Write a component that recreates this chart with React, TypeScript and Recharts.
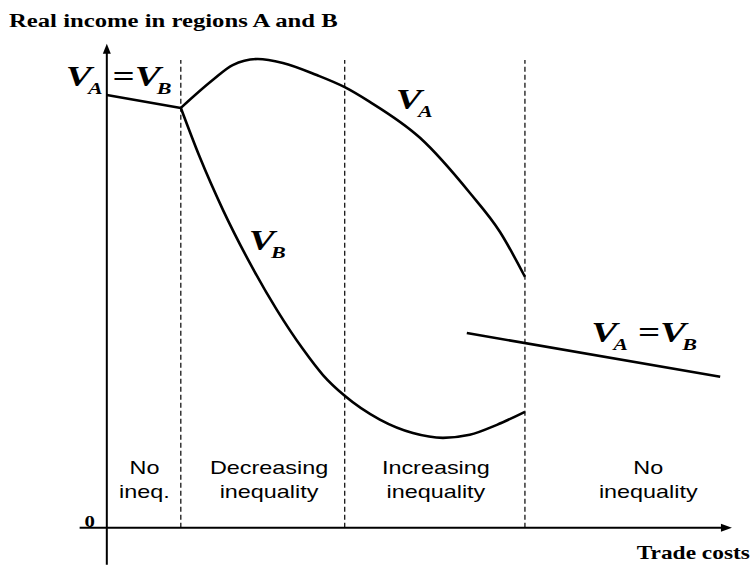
import React from 'react';
import { LineChart, Line, XAxis, YAxis, ReferenceLine, ReferenceDot } from 'recharts';

// trade costs (x) vs real income (y)
const FLAT_LEFT = [
  { x: 0, y: 100 },
  { x: 17.7, y: 97 },
];
const V_A = [
  { x: 17.7, y: 97 },
  { x: 25.4, y: 103.5 },
  { x: 30.1, y: 106.9 },
  { x: 36.1, y: 108.3 },
  { x: 42.1, y: 107.4 },
  { x: 50.2, y: 104.6 },
  { x: 56.9, y: 101.8 },
  { x: 62.9, y: 98.4 },
  { x: 74.9, y: 90.1 },
  { x: 86.8, y: 77.4 },
  { x: 94.0, y: 68.4 },
  { x: 100, y: 58.0 },
];
const V_B = [
  { x: 17.7, y: 97 },
  { x: 22.2, y: 85.7 },
  { x: 27.8, y: 73.4 },
  { x: 34.2, y: 61.2 },
  { x: 40.7, y: 50.3 },
  { x: 46.9, y: 41.3 },
  { x: 51.7, y: 35.3 },
  { x: 56.9, y: 30.5 },
  { x: 65.3, y: 25.0 },
  { x: 73.2, y: 21.9 },
  { x: 80.4, y: 20.8 },
  { x: 86.8, y: 21.5 },
  { x: 93.3, y: 23.8 },
  { x: 100, y: 26.8 },
];
const FLAT_RIGHT = [
  { x: 86.1, y: 45.0 },
  { x: 146.7, y: 34.9 },
];

const BOUNDARIES = [17.7, 56.9, 100];
const REGION_MID = [9.0, 38.8, 78.7, 129.5];
const REGION_TOP = ['No', 'Decreasing', 'Increasing', 'No'];
const REGION_BOTTOM = ['ineq.', 'inequality', 'inequality', 'inequality'];

const W = 756;
const H = 571;
const SX = 1.3; // the original figure is stretched sideways
const SERIF = '"Liberation Serif", "Times New Roman", serif';
const SANS = '"Liberation Sans", Arial, sans-serif';

function Stretch({ x, y, anchor = 'start', size, family = SERIF, weight = 'bold', children }: any) {
  return (
    <text
      transform={`translate(${x},${y}) scale(${SX},1)`}
      textAnchor={anchor}
      fontSize={size}
      fontFamily={family}
      fontWeight={weight}
      fill="#000"
    >
      {children}
    </text>
  );
}

// V with a subscript, optionally "V_a = V_b"
function VLabel({ x, y, a, b }: { x: number; y: number; a: string; b?: string }) {
  const txt = { fontFamily: SERIF, fontWeight: 'bold', fontStyle: 'italic', fill: '#000' } as any;
  return (
    <g transform={`translate(${x},${y}) scale(${SX},1)`}>
      <text x={0} y={0} fontSize={30} {...txt}>V</text>
      <text x={17} y={8} fontSize={17} {...txt}>{a}</text>
      {b && (
        <>
          <text x={36} y={0} fontSize={30} {...txt} fontStyle="normal">=</text>
          <text x={53} y={0} fontSize={30} {...txt}>V</text>
          <text x={70} y={8} fontSize={17} {...txt}>{b}</text>
        </>
      )}
    </g>
  );
}

const upArrow = ({ cx, cy }: any) => (
  <path d={`M${cx},${cy} L${cx - 4},${cy + 10} L${cx + 4},${cy + 10} Z`} fill="#000" />
);
const rightArrow = ({ cx, cy }: any) => (
  <path d={`M${cx},${cy} L${cx - 11},${cy - 4} L${cx - 11},${cy + 4} Z`} fill="#000" />
);

export default function App() {
  return (
    <div style={{ position: 'absolute', left: 0, top: 0, width: W, height: H, background: '#fff' }}>
      <LineChart width={W} height={H} margin={{ top: 43, right: 22, bottom: 2, left: 65 }}>
        <XAxis type="number" dataKey="x" domain={[-10, 150]} hide allowDataOverflow />
        <YAxis type="number" dataKey="y" domain={[-9.5, 112]} hide allowDataOverflow />

        {BOUNDARIES.map((b) => (
          <ReferenceLine
            key={b}
            segment={[{ x: b, y: 0 }, { x: b, y: 108.1 }]}
            stroke="#000"
            strokeWidth={1.2}
            strokeDasharray="5 3"
            ifOverflow="visible"
          />
        ))}

        <ReferenceLine segment={[{ x: 0, y: -8.5 }, { x: 0, y: 110 }]} stroke="#000" strokeWidth={2} ifOverflow="visible" />
        <ReferenceLine segment={[{ x: -6.5, y: 0 }, { x: 147, y: 0 }]} stroke="#000" strokeWidth={2} ifOverflow="visible" />
        <ReferenceDot x={0} y={111.8} r={0} shape={upArrow} ifOverflow="visible" />
        <ReferenceDot x={149.5} y={0} r={0} shape={rightArrow} ifOverflow="visible" />

        <Line data={FLAT_LEFT} dataKey="y" type="linear" stroke="#000" strokeWidth={2.6} dot={false} isAnimationActive={false} />
        <Line data={V_A} dataKey="y" type="monotone" stroke="#000" strokeWidth={2.6} dot={false} isAnimationActive={false} />
        <Line data={V_B} dataKey="y" type="monotone" stroke="#000" strokeWidth={2.6} dot={false} isAnimationActive={false} />
        <Line data={FLAT_RIGHT} dataKey="y" type="linear" stroke="#000" strokeWidth={2.6} dot={false} isAnimationActive={false} />

        {REGION_MID.map((m, i) => (
          <ReferenceDot
            key={m}
            x={m}
            y={0}
            r={0}
            ifOverflow="visible"
            shape={({ cx, cy }: any) => (
              <g>
                <Stretch x={cx} y={cy - 54} anchor="middle" size={18} family={SANS} weight="normal">{REGION_TOP[i]}</Stretch>
                <Stretch x={cx} y={cy - 30} anchor="middle" size={18} family={SANS} weight="normal">{REGION_BOTTOM[i]}</Stretch>
              </g>
            )}
          />
        ))}

        <ReferenceDot x={0} y={0} r={0} ifOverflow="visible"
          shape={({ cx, cy }: any) => <Stretch x={cx - 12} y={cy - 1} anchor="end" size={16}>0</Stretch>} />
        <ReferenceDot x={149.5} y={0} r={0} ifOverflow="visible"
          shape={({ cx, cy }: any) => <Stretch x={cx + 18} y={cy + 31} anchor="end" size={18}>Trade costs</Stretch>} />

        <ReferenceDot x={0} y={100} r={0} ifOverflow="visible"
          shape={({ cx, cy }: any) => <VLabel x={cx - 41} y={cy - 9} a="A" b="B" />} />
        <ReferenceDot x={146.7} y={34.9} r={0} ifOverflow="visible"
          shape={({ cx, cy }: any) => <VLabel x={cx - 129} y={cy - 35} a="A" b="B" />} />
        <ReferenceDot x={62.9} y={98.4} r={0} ifOverflow="visible"
          shape={({ cx, cy }: any) => <VLabel x={cx + 26} y={cy + 7} a="A" />} />
        <ReferenceDot x={34.2} y={61.2} r={0} ifOverflow="visible"
          shape={({ cx, cy }: any) => <VLabel x={cx - 1} y={cy - 13} a="B" />} />
      </LineChart>
      <svg width={W} height={40} style={{ position: 'absolute', left: 0, top: 0 }}>
        <Stretch x={9} y={27} size={19}>Real income in regions A and B</Stretch>
      </svg>
    </div>
  );
}
